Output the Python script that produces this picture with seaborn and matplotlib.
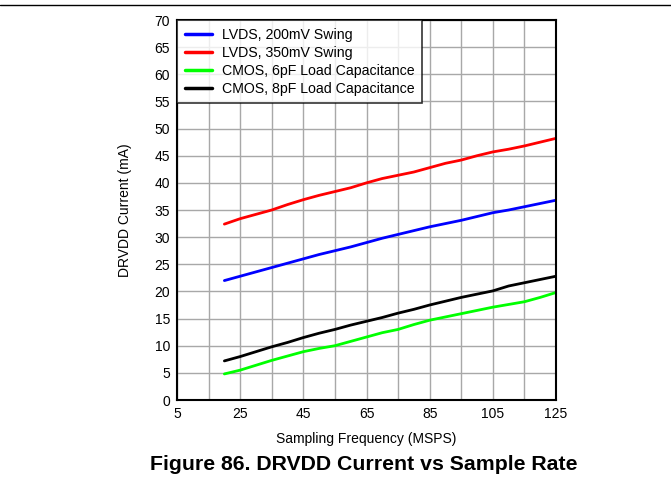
"""DRVDD current vs sample rate, redrawn with seaborn."""
import matplotlib
matplotlib.use("Agg")
import matplotlib.pyplot as plt
import numpy as np
import pandas as pd
import seaborn as sns
from matplotlib.lines import Line2D

freq = [20, 25, 30, 35, 40, 45, 50, 55, 60, 65, 70, 75, 80, 85, 90, 95, 100, 105, 110, 115, 120, 125]
lvds_200 = [22.0, 22.8, 23.6, 24.4, 25.2, 26.0, 26.8, 27.5, 28.2, 29.0, 29.8, 30.5,
            31.2, 31.9, 32.5, 33.1, 33.8, 34.5, 35.0, 35.6, 36.2, 36.8]
lvds_350 = [32.4, 33.4, 34.2, 35.0, 36.0, 36.9, 37.7, 38.4, 39.1, 40.0, 40.8, 41.4,
            42.0, 42.8, 43.6, 44.2, 45.0, 45.7, 46.2, 46.8, 47.5, 48.2]
cmos_6pf = [4.8, 5.5, 6.4, 7.3, 8.1, 8.9, 9.5, 10.0, 10.8, 11.6, 12.4, 13.0,
            13.9, 14.7, 15.3, 15.9, 16.5, 17.1, 17.6, 18.1, 18.9, 19.8]
cmos_8pf = [7.2, 8.0, 8.9, 9.8, 10.6, 11.5, 12.3, 13.0, 13.8, 14.5, 15.2, 16.0,
            16.7, 17.5, 18.2, 18.9, 19.5, 20.1, 21.0, 21.6, 22.2, 22.8]
series_names = ["LVDS, 200mV Swing", "LVDS, 350mV Swing",
                "CMOS, 6pF Load Capacitance", "CMOS, 8pF Load Capacitance"]
colors = ["#0000ff", "#ff0000", "#00ff00", "#000000"]

df = pd.DataFrame({"freq": freq * 4,
                   "current": lvds_200 + lvds_350 + cmos_6pf + cmos_8pf,
                   "series": np.repeat(series_names, len(freq))})

sns.set_theme(style="white")
plt.rcParams["font.family"] = ["Liberation Sans", "DejaVu Sans"]
plt.rcParams["text.color"] = "black"

fig = plt.figure(figsize=(6.71, 4.82), dpi=100)
ax = fig.add_axes([177 / 671, 1 - 400 / 482, (556 - 177) / 671, 380 / 482])

sns.lineplot(data=df, x="freq", y="current", hue="series", hue_order=series_names,
             palette=colors, linewidth=2, ax=ax, legend=False)

ax.set_xlim(5, 125)
ax.set_ylim(0, 70)
ax.set_xticks(np.arange(5, 126, 20))
ax.set_xticks(np.arange(15, 125, 20), minor=True)
ax.set_yticks(np.arange(0, 71, 5))
ax.grid(True, which="both", color="#a8a8a8", linewidth=1)
ax.tick_params(axis="both", which="both", length=0, labelsize=10, colors="black", pad=5)
for s in ax.spines.values():
    s.set_color("black")
    s.set_linewidth(1.5)

ax.set_xlabel("Sampling Frequency (MSPS)", fontsize=10, color="black", labelpad=8)
ax.set_ylabel("DRVDD Current (mA)", fontsize=10, color="black", labelpad=16)

handles = [Line2D([0], [0], color=c, lw=2.5) for c in colors]
leg = ax.legend(handles, series_names, loc="upper left", fontsize=10.2, frameon=True,
                fancybox=False, borderaxespad=0, handlelength=1.9, handletextpad=0.7,
                labelspacing=0.28, borderpad=0.55)
leg.get_frame().set_edgecolor("black")
leg.get_frame().set_linewidth(1.2)

fig.text(363.5 / 671, 1 - 465 / 482, "Figure 86. DRVDD Current vs Sample Rate",
         ha="center", va="center", fontsize=15.3, fontweight="bold", color="black")
fig.add_artist(Line2D([0, 1], [1 - 5 / 482, 1 - 5 / 482], color="black", lw=1,
                      transform=fig.transFigure))

fig.savefig("out.png", dpi=100)
